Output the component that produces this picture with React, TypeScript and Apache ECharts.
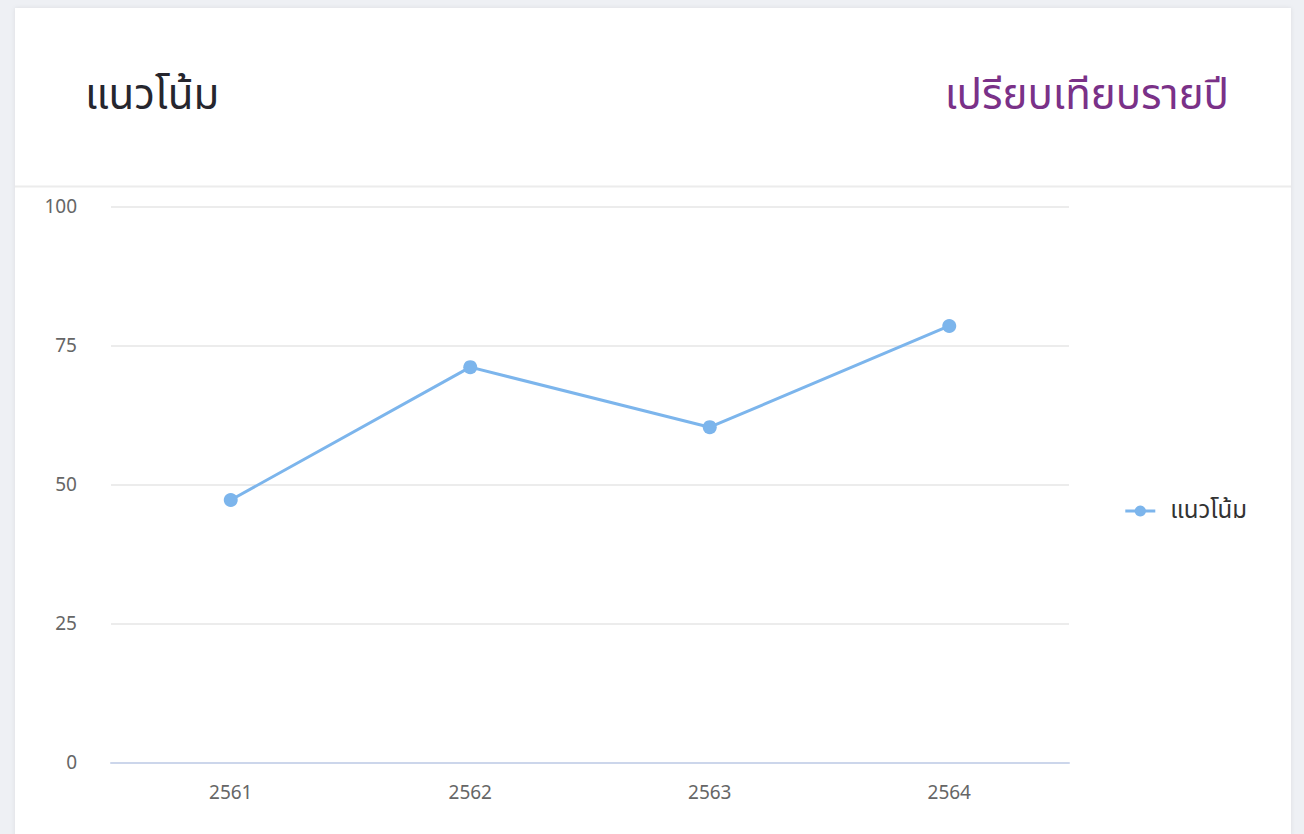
import React, { useEffect, useRef } from "react";
import * as echarts from "echarts";

const categories = ["2561", "2562", "2563", "2564"];
const trendValues = [47.3, 71.2, 60.4, 78.6];
const seriesName = "แนวโน้ม";
const titleText = "แนวโน้ม";
const subtitleText = "เปรียบเทียบรายปี";

const FONT = "'Noto Sans Thai', 'Noto Sans', 'Open Sans', sans-serif";

export default function App() {
  const ref = useRef<HTMLDivElement>(null);
  useEffect(() => {
    if (!ref.current) return;
    const chart = echarts.init(ref.current, undefined, { renderer: "svg" });
    chart.setOption({
      animation: false,
      backgroundColor: "#eef0f4",
      textStyle: { fontFamily: FONT },
      graphic: [
        {
          type: "rect",
          z: -10,
          shape: { x: 15, y: 8, width: 1276, height: 840 },
          style: { fill: "#ffffff", shadowBlur: 4, shadowColor: "rgba(0,0,0,0.08)" },
        },
        {
          type: "line",
          z: -5,
          shape: { x1: 15, y1: 186.5, x2: 1291, y2: 186.5 },
          style: { stroke: "#ececec", lineWidth: 2 },
        },
      ],
      title: [
        {
          text: titleText,
          left: 80,
          top: 70,
          textStyle: { fontFamily: FONT, fontSize: 42, fontWeight: "normal", color: "#26262e" },
        },
        {
          text: subtitleText,
          right: 70,
          top: 70,
          textStyle: { fontFamily: FONT, fontSize: 42, fontWeight: "normal", color: "#7a3188" },
        },
      ],
      legend: {
        orient: "vertical",
        right: 52,
        top: 494,
        itemWidth: 30,
        itemHeight: 14,
        itemGap: 10,
        lineStyle: { width: 3 },
        textStyle: { fontFamily: FONT, fontSize: 24, color: "#333333", padding: [0, 0, 0, 10] },
        data: [seriesName],
      },
      grid: { left: 111, right: 235, top: 207, bottom: 71 },
      xAxis: {
        type: "category",
        data: categories,
        boundaryGap: true,
        axisLine: { lineStyle: { color: "#ccd6eb", width: 2 } },
        axisTick: { show: false },
        axisLabel: { color: "#666666", fontSize: 19, margin: 21, fontFamily: FONT },
        splitLine: { show: false },
      },
      yAxis: {
        type: "value",
        min: 0,
        max: 100,
        interval: 25,
        axisLine: { show: false },
        axisTick: { show: false },
        axisLabel: { color: "#666666", fontSize: 19, margin: 34, fontFamily: FONT },
        splitLine: { lineStyle: { color: "#ececec", width: 2 } },
      },
      series: [
        {
          name: seriesName,
          type: "line",
          data: trendValues,
          symbol: "circle",
          symbolSize: 14,
          showSymbol: true,
          itemStyle: { color: "#7cb5ec" },
          lineStyle: { color: "#7cb5ec", width: 3 },
        },
      ],
    });
    return () => chart.dispose();
  }, []);
  return (
    <div
      ref={ref}
      style={{ position: "fixed", left: 0, top: 0, width: 1304, height: 834 }}
    />
  );
}
